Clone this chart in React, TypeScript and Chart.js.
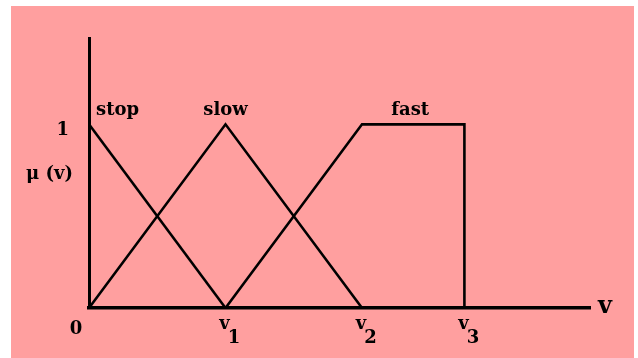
import React, { useEffect, useRef } from "react";
import { Chart, registerables } from "chart.js";

Chart.register(...registerables);

// ---- data (x in units of v, y = membership μ(v)) ----
const stopX = [0, 1];
const stopY = [1, 0];
const slowX = [0, 1, 2];
const slowY = [0, 1, 0];
const fastX = [1, 2, 2.75, 2.75];
const fastY = [0, 1, 1, 0];
const seriesNames = ["stop", "slow", "fast"];
const xTickValues = [0, 1, 2, 2.75];
const xTickMain = ["0", "v", "v", "v"];
const xTickSub = ["", "1", "2", "3"];
const yTickValues = [1];
const yTickLabels = ["1"];
const xAxisTitle = "v";
const yAxisTitle = "μ (v)";

const FONT = '"DejaVu Serif", "Liberation Serif", serif';

const pts = (xs: number[], ys: number[]) => xs.map((x, i) => ({ x, y: ys[i] }));

const labelPlugin = {
  id: "fuzzyLabels",
  afterDatasetsDraw(chart: any) {
    const { ctx, scales } = chart;
    const xs = scales.x;
    const ys = scales.y;
    const px = (v: number) => xs.getPixelForValue(v);
    const py = (v: number) => ys.getPixelForValue(v);
    ctx.save();
    ctx.fillStyle = "#000";
    ctx.textBaseline = "alphabetic";
    ctx.font = `bold 18px ${FONT}`;

    // series names
    ctx.textAlign = "left";
    ctx.fillText(seriesNames[0], px(stopX[0]) + 7, py(stopY[0]) - 9);
    ctx.textAlign = "center";
    const slowPeak = slowY.indexOf(Math.max(...slowY));
    ctx.fillText(seriesNames[1], px(slowX[slowPeak]), py(slowY[slowPeak]) - 9);
    const fMid = (fastX[1] + fastX[2]) / 2;
    ctx.fillText(seriesNames[2], px(fMid) - 3, py(fastY[1]) - 9);

    // y tick labels
    ctx.textAlign = "right";
    yTickValues.forEach((v, i) => {
      ctx.fillText(yTickLabels[i], px(0) - 20, py(v) + 11);
    });
    // y axis title
    ctx.fillText(yAxisTitle, px(0) - 16, py(1) + 55);

    // x tick labels with subscripts
    xTickValues.forEach((v, i) => {
      const x = px(v);
      if (!xTickSub[i]) {
        ctx.textAlign = "center";
        ctx.fillText(xTickMain[i], x - 13, py(0) + 26);
      } else {
        ctx.textAlign = "center";
        ctx.fillText(xTickMain[i], x - 1, py(0) + 21);
        const w = ctx.measureText(xTickMain[i]).width;
        ctx.textAlign = "left";
        ctx.fillText(xTickSub[i], x - 1 + w / 2 - 2, py(0) + 35);
      }
    });

    // x axis title
    ctx.font = `bold 24px ${FONT}`;
    ctx.textAlign = "left";
    ctx.fillText(xAxisTitle, xs.right + 8, py(0) + 5);
    ctx.restore();
  },
};

export default function App() {
  const ref = useRef<HTMLCanvasElement | null>(null);
  useEffect(() => {
    if (!ref.current) return;
    const common = {
      borderColor: "#000",
      borderWidth: 2.6,
      pointRadius: 0,
      tension: 0,
      fill: false,
      showLine: true,
      clip: false as any,
    };
    const chart = new Chart(ref.current, {
      type: "scatter",
      data: {
        datasets: [
          { label: seriesNames[0], data: pts(stopX, stopY), ...common },
          { label: seriesNames[1], data: pts(slowX, slowY), ...common },
          { label: seriesNames[2], data: pts(fastX, fastY), ...common },
        ],
      },
      options: {
        responsive: false,
        animation: false,
        devicePixelRatio: 1,
        layout: { padding: { left: 89, right: 48, top: 38, bottom: 50 } },
        plugins: { legend: { display: false }, tooltip: { enabled: false } },
        scales: {
          x: {
            type: "linear",
            min: 0,
            max: 3.67,
            grid: { display: false, drawTicks: false },
            ticks: { display: false },
            border: { display: true, color: "#000", width: 3.5 },
          },
          y: {
            type: "linear",
            min: 0,
            max: 1.47,
            grid: { display: false, drawTicks: false },
            ticks: { display: false },
            border: { display: true, color: "#000", width: 3 },
          },
        },
      },
      plugins: [labelPlugin],
    });
    return () => chart.destroy();
  }, []);

  return (
    <div style={{ position: "absolute", left: 0, top: 0, width: 638, height: 358, background: "#fff" }}>
      <div style={{ position: "absolute", left: 11, top: 6, width: 623, height: 352, background: "#FF9F9F" }} />
      <canvas ref={ref} width={638} height={358} style={{ position: "absolute", left: 0, top: 0 }} />
    </div>
  );
}
